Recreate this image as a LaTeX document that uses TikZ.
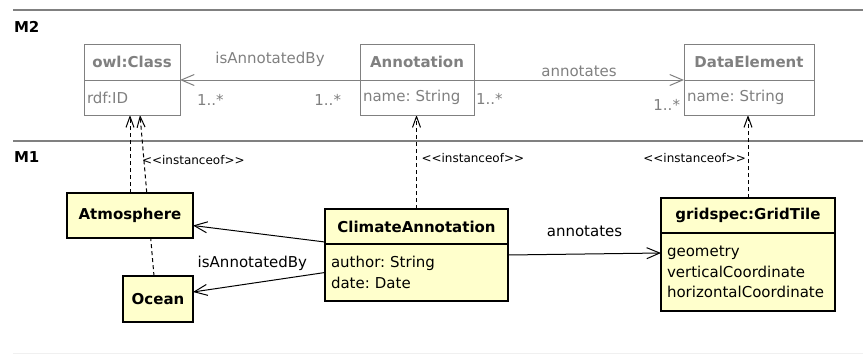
\documentclass[tikz,border=0pt]{standalone}
\usepackage{fontspec}
\setmainfont{DejaVu Sans}
\usetikzlibrary{positioning,arrows.meta,backgrounds}
\definecolor{classgray}{RGB}{128,128,128}
\definecolor{layergray}{RGB}{128,128,128}
\definecolor{objyellow}{RGB}{255,255,204}
\newcommand\umlfont{\fontsize{15}{20.5}\selectfont}
\frenchspacing

\begin{document}
\begin{tikzpicture}[x=1pt,y=-1pt,
  every node/.style={font=\umlfont, inner sep=0pt, outer sep=0pt},
  m2title/.style={draw=classgray, text=classgray, fill=white, line width=1pt,
    font=\umlfont\bfseries, anchor=north west, minimum height=36pt},
  m2body/.style={draw=classgray, text=classgray, fill=white, line width=1pt,
    align=left, inner xsep=3pt, minimum height=35pt},
  m1title/.style={draw, fill=objyellow, line width=1.2pt,
    font=\umlfont\bfseries, anchor=north west},
  m1body/.style={draw, fill=objyellow, line width=1.2pt,
    align=left, inner xsep=6pt},
  inst/.style={line width=1pt, dash pattern=on 4pt off 3pt,
    -{Straight Barb[length=11pt,width=8pt]}},
  assoc/.style={line width=1pt, -{Straight Barb[length=13pt,width=11pt]}},
  m2assoc/.style={assoc, draw=classgray, text=classgray},
  stereo/.style={font=\fontsize{12}{14}\selectfont},
  mult/.style={text=classgray},
  layerline/.style={draw=layergray, line width=2.5pt}]
  \useasboundingbox (0,0) rectangle (863,354);

  \node[anchor=base west, font=\umlfont\bfseries] (mtwo) at (14,32) {M2};
  \node[anchor=base west, font=\umlfont\bfseries] (mone) at (14,162) {M1};

  \node[m2title, minimum width=96pt] (owlTitle) at (84,44) {owl:Class};
  \node[m2body, text width=90pt, below=0pt of owlTitle] (owlBody) {rdf:ID};
  \node[m2title, minimum width=114pt] (annTitle) at (360,44) {Annotation};
  \node[m2body, text width=108pt, below=0pt of annTitle] (annBody) {name: String};
  \node[m2title, minimum width=130pt] (deTitle) at (684,44) {DataElement};
  \node[m2body, text width=124pt, below=0pt of deTitle] (deBody) {name: String};

  \node[m1title, minimum width=126pt, minimum height=45pt] (atmo) at (67,193) {Atmosphere};
  \node[m1title, minimum width=70pt, minimum height=46pt] (ocean) at (123,276) {Ocean};
  \node[m1title, minimum width=183pt, minimum height=35pt] (climTitle) at (325,209) {ClimateAnnotation};
  \node[m1body, text width=171pt, minimum height=57pt, below=0pt of climTitle] (climBody)
    {author: String\\date: Date};
  \node[m1title, minimum width=174pt, minimum height=35pt] (gridTitle) at (661,198) {gridspec:GridTile};
  \node[m1body, text width=162pt, minimum height=78pt, below=0pt of gridTitle] (gridBody)
    {geometry\\verticalCoordinate\\horizontalCoordinate};

  \begin{scope}[on background layer]
    \draw[layerline] (13,10) -- (863,10);
    \draw[layerline] (13,141) -- (863,141);
    \draw[gray!12, line width=1pt] (13,353) -- (863,353);

    \draw[m2assoc] (annTitle.south west) -- node[above=13.5pt] {isAnnotatedBy}
      node[mult, pos=0, anchor=north east, xshift=-19pt, yshift=-14pt] {1..*}
      node[mult, pos=1, anchor=north west, xshift=17pt, yshift=-14pt] {1..*} (owlTitle.south east);
    \draw[m2assoc] (annTitle.south east) -- node[above=3pt] {annotates}
      node[mult, pos=0, anchor=north west, xshift=2pt, yshift=-13pt] {1..*}
      node[mult, pos=1, anchor=north east, xshift=-4pt, yshift=-19pt] {1..*} (deTitle.south west);

    \draw[inst] (atmo.north) -- node[stereo, pos=0.36, anchor=base west, xshift=12pt]
      {<{}<instanceof>{}>} (atmo.north |- owlBody.south);
    \draw[inst] ([xshift=-4pt]ocean.north) -- ([xshift=8pt]owlBody.south);
    \draw[inst] (climTitle.north) -- node[stereo, pos=0.49, anchor=base west, xshift=5pt]
      {<{}<instanceof>{}>} (climTitle.north |- annBody.south);
    \draw[inst] (gridTitle.north) -- node[stereo, pos=0.43, anchor=base east, xshift=-2pt]
      {<{}<instanceof>{}>} (gridTitle.north |- deBody.south);

    \draw[assoc] ([yshift=2pt]climBody.north west) -- ([yshift=-10pt]atmo.east);
    \draw[assoc] (climBody.west) -- node[pos=0.55, above=13pt] {isAnnotatedBy}
      ([yshift=7pt]ocean.east);
    \draw[assoc] ([yshift=-11pt]climBody.north east) -- node[above=17.5pt] {annotates}
      ([yshift=-20pt]gridBody.north west);
  \end{scope}
\end{tikzpicture}
\end{document}
